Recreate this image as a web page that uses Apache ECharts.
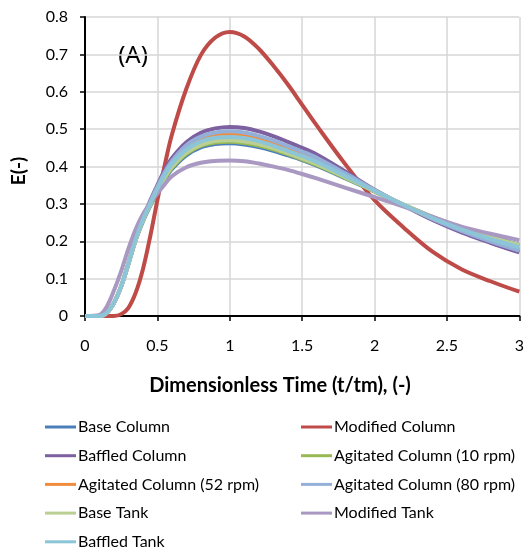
<!DOCTYPE html>
<html>
<head>
<meta charset="utf-8">
<script src="https://cdn.jsdelivr.net/npm/echarts@6/dist/echarts.min.js"></script>
<style>
html,body{margin:0;padding:0;background:#fff;}
#chart{width:527px;height:551px;}
</style>
</head>
<body>
<div id="chart"></div>
<script>
// Dimensionless time points
var timePoints = [0, 0.1, 0.15, 0.2, 0.25, 0.3, 0.35, 0.4, 0.45, 0.5, 0.55, 0.6, 0.7, 0.8, 0.9, 1.0, 1.1, 1.2, 1.3, 1.4, 1.5, 1.6, 1.8, 2.0, 2.2, 2.4, 2.6, 2.8, 3.0];

var seriesNames = ["Base Column", "Modified Column", "Baffled Column", "Agitated Column (10 rpm)", "Agitated Column (52 rpm)", "Agitated Column (80 rpm)", "Base Tank", "Modified Tank", "Baffled Tank"];

var baseColumn     = [0, 0, 0.008, 0.035, 0.08, 0.14, 0.203, 0.253, 0.294, 0.331, 0.365, 0.393, 0.430, 0.451, 0.460, 0.462, 0.459, 0.452, 0.442, 0.430, 0.417, 0.402, 0.368, 0.333, 0.298, 0.265, 0.236, 0.212, 0.190];
var modifiedColumn = [0, 0, 0, 0, 0.005, 0.022, 0.062, 0.125, 0.212, 0.310, 0.402, 0.485, 0.608, 0.698, 0.745, 0.760, 0.748, 0.715, 0.670, 0.620, 0.565, 0.510, 0.405, 0.310, 0.237, 0.172, 0.125, 0.093, 0.065];
var baffledColumn  = [0, 0, 0.008, 0.035, 0.08, 0.14, 0.206, 0.262, 0.308, 0.350, 0.390, 0.422, 0.465, 0.490, 0.502, 0.506, 0.503, 0.494, 0.481, 0.466, 0.450, 0.432, 0.386, 0.338, 0.296, 0.257, 0.224, 0.196, 0.170];
var agitated10     = [0, 0, 0.008, 0.035, 0.08, 0.14, 0.204, 0.255, 0.296, 0.333, 0.367, 0.396, 0.434, 0.455, 0.464, 0.466, 0.463, 0.456, 0.446, 0.433, 0.419, 0.404, 0.369, 0.333, 0.297, 0.264, 0.235, 0.210, 0.188];
var agitated52     = [0, 0, 0.008, 0.035, 0.08, 0.14, 0.205, 0.259, 0.303, 0.343, 0.380, 0.411, 0.451, 0.474, 0.484, 0.486, 0.483, 0.475, 0.463, 0.449, 0.434, 0.417, 0.378, 0.336, 0.297, 0.261, 0.230, 0.203, 0.178];
var agitated80     = [0, 0, 0.008, 0.035, 0.08, 0.14, 0.205, 0.260, 0.305, 0.346, 0.384, 0.415, 0.457, 0.480, 0.491, 0.494, 0.491, 0.482, 0.470, 0.455, 0.440, 0.423, 0.381, 0.337, 0.297, 0.260, 0.228, 0.200, 0.175];
var baseTank       = [0, 0, 0.008, 0.035, 0.08, 0.14, 0.204, 0.256, 0.297, 0.335, 0.370, 0.399, 0.437, 0.458, 0.468, 0.470, 0.467, 0.460, 0.449, 0.436, 0.422, 0.407, 0.371, 0.334, 0.298, 0.265, 0.236, 0.211, 0.190];
var modifiedTank   = [0, 0.003, 0.025, 0.068, 0.12, 0.18, 0.232, 0.272, 0.302, 0.328, 0.352, 0.374, 0.398, 0.410, 0.415, 0.416, 0.414, 0.408, 0.400, 0.391, 0.380, 0.368, 0.343, 0.318, 0.293, 0.265, 0.239, 0.220, 0.203];
var baffledTank    = [0, 0, 0.008, 0.035, 0.08, 0.14, 0.205, 0.258, 0.300, 0.340, 0.377, 0.407, 0.445, 0.467, 0.477, 0.479, 0.476, 0.468, 0.456, 0.442, 0.428, 0.412, 0.374, 0.335, 0.297, 0.262, 0.232, 0.206, 0.184];

var xTicks = [0, 0.5, 1, 1.5, 2, 2.5, 3];
var yTicks = [0, 0.1, 0.2, 0.3, 0.4, 0.5, 0.6, 0.7, 0.8];

var allValues = [baseColumn, modifiedColumn, baffledColumn, agitated10, agitated52, agitated80, baseTank, modifiedTank, baffledTank];
var colors = ["#4A7EBB", "#BE4B48", "#7D60A0", "#98B954", "#F08C3E", "#95B0D8", "#B9CF93", "#A898C2", "#8CC5D8"];

function pairs(vals){
  return timePoints.map(function(t,i){ return [t, vals[i]]; });
}

var series = seriesNames.map(function(name, i){
  return {
    name: name,
    type: 'line',
    data: pairs(allValues[i]),
    smooth: 0.35,
    showSymbol: false,
    symbol: 'none',
    lineStyle: {width: 4, color: colors[i]},
    itemStyle: {color: colors[i]},
    z: 2 + i
  };
});

var FONT = 'Lato';
var chart = echarts.init(document.getElementById('chart'), null, {renderer: 'canvas'});
var legendCommon = {
  orient: 'vertical',
  top: 418,
  height: 160,
  padding: 0,
  itemWidth: 31,
  itemHeight: 3,
  itemGap: 10.7,
  icon: 'rect',
  textStyle: {fontFamily: FONT, fontSize: 16, color: '#000', lineHeight: 18, padding: [0,0,0,-3]},
  selectedMode: false
};
chart.setOption({
  animation: false,
  backgroundColor: '#fff',
  grid: {left: 85, right: 5, top: 17, bottom: 235, containLabel: false},
  xAxis: {
    type: 'value', min: 0, max: 3, interval: 0.5,
    axisLine: {show: true, onZero: false, lineStyle: {color: '#000', width: 2}},
    axisTick: {show: true, inside: false, length: 5, lineStyle: {color: '#000', width: 1.5}},
    axisLabel: {fontFamily: FONT, fontSize: 16, color: '#000', margin: 22,
      formatter: function(v){ return xTicks.indexOf(v) >= 0 ? String(v) : ''; }},
    splitLine: {show: true, lineStyle: {color: '#D6D6D6', width: 1.5}}
  },
  yAxis: {
    type: 'value', min: 0, max: 0.8, interval: 0.1,
    axisLine: {show: true, lineStyle: {color: '#000', width: 2}},
    axisTick: {show: true, inside: false, length: 5, lineStyle: {color: '#000', width: 1.5}},
    axisLabel: {fontFamily: FONT, fontSize: 16, color: '#000', margin: 17,
      formatter: function(v){ var r = Math.round(v*10)/10; return String(r); }},
    splitLine: {show: true, lineStyle: {color: '#D6D6D6', width: 1.5}}
  },
  legend: [
    Object.assign({}, legendCommon, {left: 45, data: ["Base Column", "Baffled Column", "Agitated Column (52 rpm)", "Base Tank", "Baffled Tank"]}),
    Object.assign({}, legendCommon, {left: 301, data: ["Modified Column", "Agitated Column (10 rpm)", "Agitated Column (80 rpm)", "Modified Tank"]})
  ],
  graphic: [
    {type: 'text', x: 133, y: 56, style: {text: '(A)', fontFamily: 'Noto Sans', fontSize: 24, fill: '#000', textAlign: 'center', textVerticalAlign: 'middle'}},
    {type: 'text', x: 280, y: 386, style: {text: 'Dimensionless Time (t/tm), (-)', fontFamily: FONT, fontWeight: 'bold', fontSize: 20, fill: '#000', textAlign: 'center', textVerticalAlign: 'middle'}},
    {type: 'text', x: 19, y: 171, rotation: Math.PI/2, style: {text: 'E(-)', fontFamily: FONT, fontWeight: 'bold', fontSize: 19, fill: '#000', textAlign: 'center', textVerticalAlign: 'middle'}}
  ],
  series: series
});
</script>
</body>
</html>
